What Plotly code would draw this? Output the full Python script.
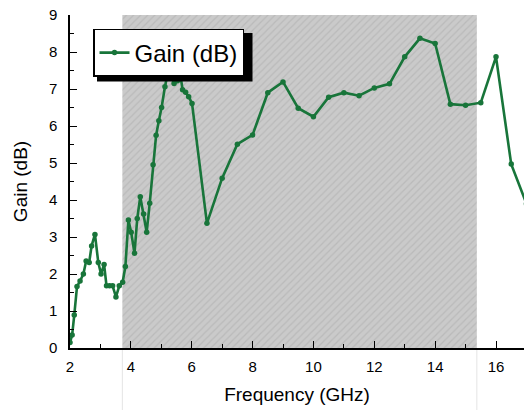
import plotly.graph_objects as go

freq = [2.0, 2.07, 2.14, 2.23, 2.33, 2.44, 2.53, 2.63, 2.71, 2.82, 2.93, 3.02, 3.12, 3.2,
        3.3, 3.4, 3.51, 3.62, 3.73, 3.82, 3.92, 4.01, 4.12, 4.21, 4.31, 4.42, 4.52, 4.62,
        4.73, 4.83, 4.92, 5.01, 5.12, 5.2, 5.3, 5.42, 5.53, 5.62, 5.70, 5.80, 5.90, 6.01,
        6.5, 7.0, 7.5, 8.0, 8.5, 9.0, 9.5, 10.0, 10.5, 11.0, 11.5, 12.0, 12.5, 13.0, 13.5,
        14.0, 14.5, 15.0, 15.5, 16.0, 16.5, 17.0]
gain = [0.15, 0.35, 0.89, 1.66, 1.81, 2.0, 2.35, 2.31, 2.76, 3.07, 2.31, 2.0, 2.26, 1.68,
        1.68, 1.68, 1.38, 1.68, 1.78, 2.2, 3.46, 3.13, 2.56, 3.5, 4.09, 3.62, 3.13, 3.91,
        4.95, 5.75, 6.14, 6.5, 7.06, 7.38, 7.38, 7.15, 7.22, 7.42, 6.98, 6.91, 6.79, 6.61,
        3.37, 4.59, 5.51, 5.76, 6.9, 7.19, 6.48, 6.25, 6.78, 6.9, 6.82, 7.03, 7.14, 7.87, 8.37,
        8.23, 6.59, 6.56, 6.63, 7.87, 4.97, 3.9]

band_x = [3.72, 15.37]          # shaded band limits (GHz)
y_range = [0, 9]
x_range = [2, 16.92]
x_ticks = [2, 4, 6, 8, 10, 12, 14, 16]
y_ticks = [0, 1, 2, 3, 4, 5, 6, 7, 8, 9]

GREEN = "#18753a"
FONT = "Liberation Sans, Arial, sans-serif"

fig = go.Figure()

fig.add_trace(go.Scatter(
    x=[band_x[0], band_x[1], band_x[1], band_x[0], band_x[0]],
    y=[y_range[0], y_range[0], y_range[1], y_range[1], y_range[0]],
    fill="toself", mode="lines", line=dict(width=0),
    fillcolor="#c6c6c6",
    fillpattern=dict(shape="/", bgcolor="#cacaca", fgcolor="#a9a9a9", size=5, solidity=0.25),
    showlegend=False, hoverinfo="skip",
))

fig.add_trace(go.Scatter(
    x=freq, y=gain, mode="lines+markers", name="Gain (dB)",
    line=dict(color=GREEN, width=2.6),
    marker=dict(color=GREEN, size=5.5),
    cliponaxis=True,
))

for bx in band_x:
    fig.add_shape(type="line", xref="x", yref="paper", x0=bx, x1=bx, y0=-0.19, y1=0,
                  line=dict(color="#e4e4e4", width=1), layer="below")

# legend drop shadow (paper coords)
fig.add_shape(type="rect", xref="paper", yref="paper",
              x0=0.0595, x1=0.402, y0=0.80, y1=0.946,
              fillcolor="black", line=dict(width=0), layer="above")

fig.update_layout(
    width=524, height=410,
    margin=dict(l=70, r=0, t=15, b=62),
    paper_bgcolor="white", plot_bgcolor="white",
    font=dict(family=FONT, color="black", size=15),
    showlegend=True,
    legend=dict(x=0.0507, y=0.958, xanchor="left", yanchor="top",
                bgcolor="white", bordercolor="black", borderwidth=1.5,
                font=dict(size=24, family=FONT),
                itemwidth=30, tracegroupgap=0),
)

fig.update_xaxes(
    range=x_range, tickvals=x_ticks, ticks="inside", ticklen=7, tickwidth=1.3,
    tickcolor="black", showline=True, linecolor="black", linewidth=1.5,
    showgrid=False, zeroline=False, automargin=False, ticklabelstandoff=4,
    minor=dict(dtick=1, tick0=2, ticks="inside", ticklen=4, tickwidth=1.2, tickcolor="black"),
    title=dict(text="Frequency (GHz)", font=dict(size=19), standoff=14),
    tickfont=dict(size=15),
)
fig.update_yaxes(
    range=y_range, tickvals=y_ticks, ticks="inside", ticklen=7, tickwidth=1.3,
    tickcolor="black", showline=True, linecolor="black", linewidth=1.5,
    showgrid=False, zeroline=False, automargin=False, ticklabelstandoff=8,
    minor=dict(dtick=0.5, tick0=0, ticks="inside", ticklen=4, tickwidth=1.2, tickcolor="black"),
    title=dict(text="Gain (dB)", font=dict(size=19), standoff=16),
    tickfont=dict(size=15),
)

fig.write_html("out.html", config={"displayModeBar": False},
               post_script="document.body.style.margin='0';")
